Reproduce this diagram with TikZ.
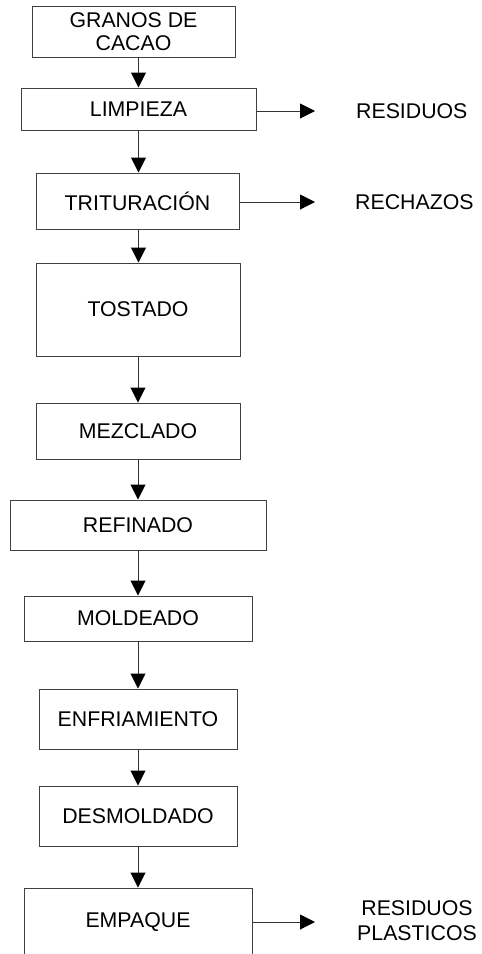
\documentclass[tikz,border=0pt]{standalone}
\usepackage{fontspec}
\setmainfont{Liberation Sans}
\usetikzlibrary{arrows.meta}
\begin{document}
\begin{tikzpicture}[x=1pt,y=-1pt,
  box/.style={draw=black!75, line width=1pt, inner sep=0pt, align=center,
    font=\fontsize{21.3}{23.5}\selectfont},
  lbl/.style={inner sep=0pt, align=center, font=\fontsize{21.3}{25}\selectfont},
  flow/.style={draw=black!80, line width=1pt,
    -{Triangle[width=15pt,length=15pt,color=black,fill=black]}}]
\useasboundingbox (0,0) rectangle (482,954);
\clip (0,0) rectangle (482,954);
\fill[white] (0,0) rectangle (482,954);
% boxes
\node[box, minimum width=203pt, minimum height=51pt] (granos) at (133.5,31.5) {GRANOS DE\\CACAO};
\node[box, minimum width=235pt, minimum height=42pt] (limp) at (138.5,109) {LIMPIEZA};
\node[box, minimum width=203pt, minimum height=56pt] (trit) at (137.5,201) {TRITURACIÓN};
\node[box, minimum width=204pt, minimum height=93pt] (tost) at (138,309.5) {TOSTADO};
\node[box, minimum width=204pt, minimum height=56pt] (mezc) at (138,431) {MEZCLADO};
\node[box, minimum width=256pt, minimum height=50pt] (refi) at (138,525) {REFINADO};
\node[box, minimum width=228pt, minimum height=45pt] (mold) at (138,618.5) {MOLDEADO};
\node[box, minimum width=198pt, minimum height=60pt] (enfr) at (138,719) {ENFRIAMIENTO};
\node[box, minimum width=198pt, minimum height=60pt] (desm) at (138,816) {DESMOLDADO};
\node[box, minimum width=228pt, minimum height=68pt] (empa) at (138,922) {EMPAQUE};
% side outputs
\node[lbl, anchor=west] (resi) at (356,111) {RESIDUOS};
\node[lbl, anchor=west] (rech) at (355,202) {RECHAZOS};
\node[lbl] (plas) at (417,921) {RESIDUOS\\PLASTICOS};
\coordinate (e1) at (315,111);
\coordinate (e2) at (315,202);
\coordinate (e3) at (315,922);
% main flow
\draw[flow] (granos.south -| limp.north) -- (limp.north);
\draw[flow] (limp.south) -- (limp.south |- trit.north);
\draw[flow] (limp.south |- trit.south) -- (limp.south |- tost.north);
\draw[flow] (tost.south) -- (mezc.north);
\draw[flow] (mezc.south) -- (refi.north);
\draw[flow] (refi.south) -- (mold.north);
\draw[flow] (mold.south) -- (enfr.north);
\draw[flow] (enfr.south) -- (desm.north);
\draw[flow] (desm.south) -- (empa.north);
% side arrows
\draw[flow] (limp.east |- e1) -- (e1);
\draw[flow] (trit.east |- e2) -- (e2);
\draw[flow] (empa.east |- e3) -- (e3);
\end{tikzpicture}
\end{document}
